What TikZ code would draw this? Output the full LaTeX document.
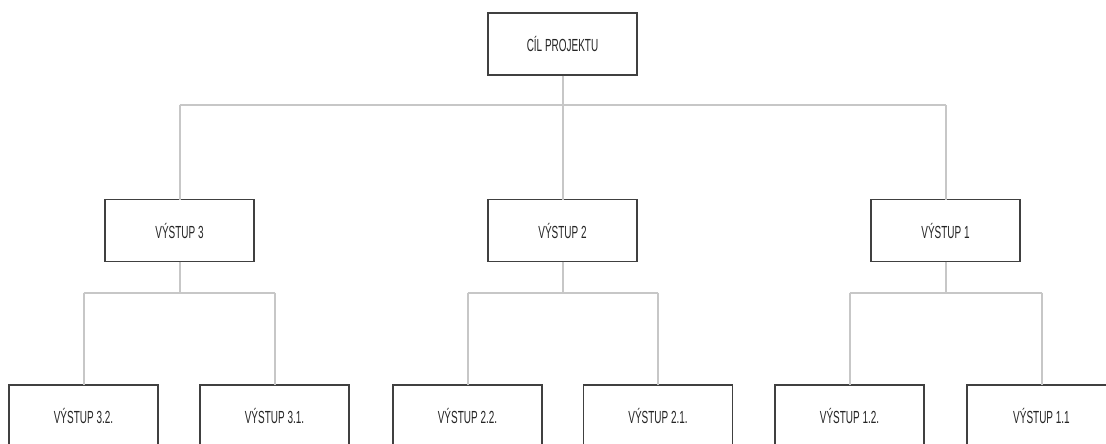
\documentclass[tikz,border=0pt]{standalone}
\usepackage{fontspec}
\setmainfont{Liberation Sans}[FakeStretch=0.57]
\begin{document}
\begin{tikzpicture}[x=1pt,y=-1pt,
  box/.style={draw=black!75,line width=1.3pt,fill=white,minimum width=149pt,minimum height=62pt,inner sep=0pt,font=\fontsize{17.5}{19}\selectfont,text=black!85},
  conn/.style={draw=black!22,line width=2pt}]
\clip (0,0) rectangle (1106,444);
\useasboundingbox (0,0) rectangle (1106,444);
\fill[white] (0,0) rectangle (1106,444);
\coordinate (bus0) at (0,105);
\coordinate (bus1) at (0,292.5);
\node[box] (cil) at (562.5,44) {CÍL PROJEKTU};
\node[box] (v3) at (179.5,230.5) {VÝSTUP 3};
\node[box] (v2) at (562.5,230.5) {VÝSTUP 2};
\node[box] (v1) at (945.5,230.5) {VÝSTUP 1};
\node[box] (v32) at (83.5,416) {VÝSTUP 3.2.};
\node[box] (v31) at (274.5,416) {VÝSTUP 3.1.};
\node[box] (v22) at (467.5,416) {VÝSTUP 2.2.};
\node[box] (v21) at (658,416) {VÝSTUP 2.1.};
\node[box] (v12) at (849.5,416) {VÝSTUP 1.2.};
\node[box] (v11) at (1041.5,416) {VÝSTUP 1.1};
\draw[conn] (cil.south) -- (cil.south |- bus0);
\draw[conn] (v3.north |- bus0) -- (v1.north |- bus0);
\foreach \n in {v3,v2,v1}{
  \draw[conn] (\n.north |- bus0) -- ([yshift=-0.65pt]\n.north);
}
\foreach \p/\a/\b in {v3/v32/v31,v2/v22/v21,v1/v12/v11}{
  \draw[conn] ([yshift=0.65pt]\p.south) -- (\p.south |- bus1);
  \draw[conn] (\a.north |- bus1) -- (\b.north |- bus1);
  \draw[conn] (\a.north |- bus1) -- ([yshift=-0.65pt]\a.north);
  \draw[conn] (\b.north |- bus1) -- ([yshift=-0.65pt]\b.north);
}
\end{tikzpicture}
\end{document}
